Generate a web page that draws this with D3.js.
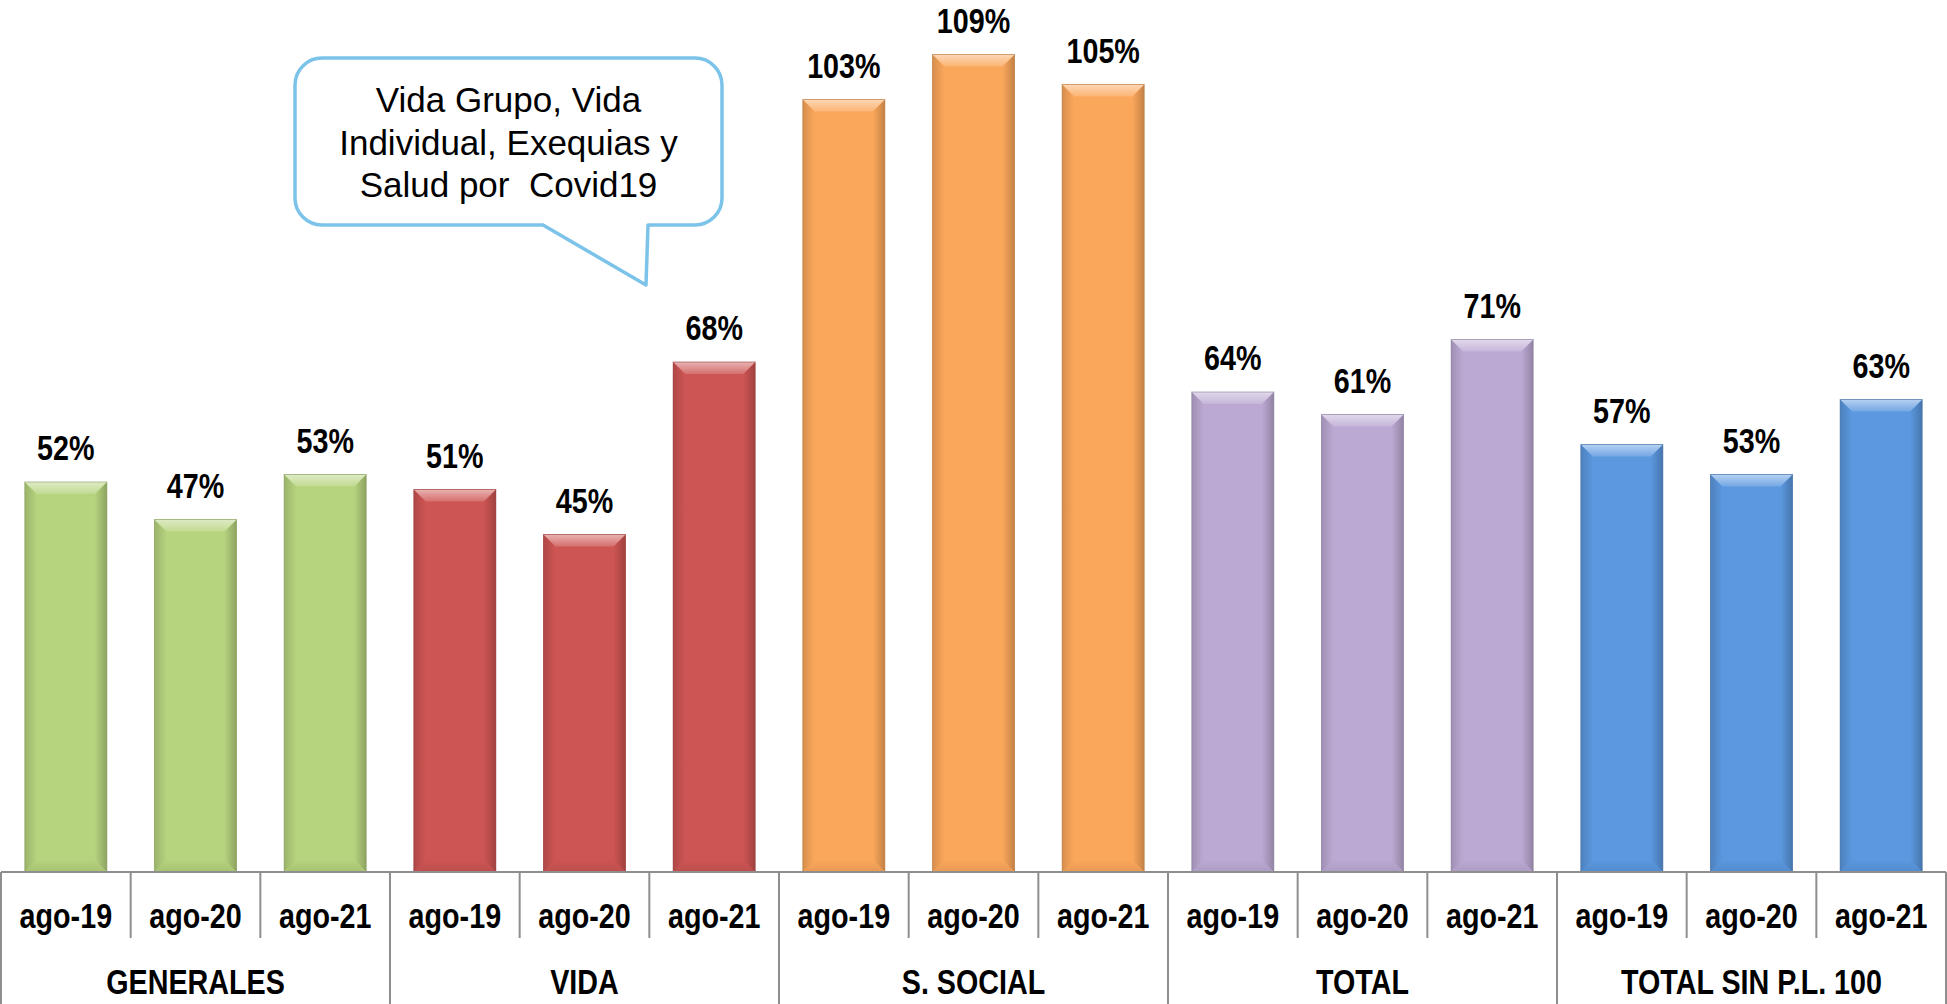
<!DOCTYPE html>
<html>
<head>
<meta charset="utf-8">
<script src="https://cdn.jsdelivr.net/npm/d3@7"></script>
<style>
  body { margin: 0; background: #fff; }
  .value, .period, .group {
    font-family: "Liberation Sans", Arial, sans-serif;
    font-weight: bold;
    font-size: 35px;
    fill: #000;
  }
  .note {
    font-family: "Liberation Sans", Arial, sans-serif;
    font-size: 35px;
    fill: #000;
    white-space: pre;
  }
</style>
</head>
<body>
<svg id="chart"></svg>
<script>
// data
const groups = ["GENERALES", "VIDA", "S. SOCIAL", "TOTAL", "TOTAL SIN P.L. 100"];
const periods = ["ago-19", "ago-20", "ago-21"];
const generales = [0.52, 0.47, 0.53];
const vida = [0.51, 0.45, 0.68];
const sSocial = [1.03, 1.09, 1.05];
const total = [0.64, 0.61, 0.71];
const totalSinPL = [0.57, 0.53, 0.63];
const groupColors = ["#b6d37e", "#cd5553", "#fba75b", "#bca9d3", "#5b98df"];
const noteLines = ["Vida Grupo, Vida", "Individual, Exequias y", "Salud por  Covid19"];

const series = [generales, vida, sSocial, total, totalSinPL];

// flat table for the bars
var rows = [];
groups.forEach((g, gi) => {
  periods.forEach((p, pi) => {
    rows.push({ key: g + "|" + p, group: g, gi: gi, period: p, value: series[gi][pi] });
  });
});

const width = 1947, height = 1004;
const left = 1, right = 1946, baseY = 872;
const lineColor = "#8e8e8e";
const narrow = 0.82;   // no narrow face installed, squeeze the bold one

var svg = d3.select("#chart").attr("width", width).attr("height", height);

var keys = rows.map(d => d.key);

var x = d3.scaleBand().domain(keys).range([left, right]).paddingInner(0.3676).paddingOuter(0.1838);
var cell = d3.scaleBand().domain(keys).range([left, right]).padding(0);
var gx = d3.scaleBand().domain(groups).range([left, right]).padding(0);
var y = d3.scaleLinear().domain([0, 1]).range([baseY, baseY - 750]);

/* ~~~~~~~~~ gradients for the bevelled bars ~~~~~~~~~ */
var defs = svg.append("defs");
groupColors.forEach((c, i) => {
  var base = d3.color(c);
  var light = d3.interpolateRgb(c, "#ffffff")(0.55);
  var dark = base.darker(0.7);

  var top = defs.append("linearGradient").attr("id", "top" + i).attr("x1", 0).attr("y1", 0).attr("x2", 0).attr("y2", 1);
  top.append("stop").attr("offset", 0).attr("stop-color", light);
  top.append("stop").attr("offset", 1).attr("stop-color", d3.interpolateRgb(c, "#ffffff")(0.15));

  var lside = defs.append("linearGradient").attr("id", "lside" + i).attr("x1", 0).attr("y1", 0).attr("x2", 1).attr("y2", 0);
  lside.append("stop").attr("offset", 0).attr("stop-color", base.darker(0.45));
  lside.append("stop").attr("offset", 1).attr("stop-color", c);

  var rside = defs.append("linearGradient").attr("id", "rside" + i).attr("x1", 0).attr("y1", 0).attr("x2", 1).attr("y2", 0);
  rside.append("stop").attr("offset", 0).attr("stop-color", c);
  rside.append("stop").attr("offset", 1).attr("stop-color", dark);

  var bot = defs.append("linearGradient").attr("id", "bot" + i).attr("x1", 0).attr("y1", 0).attr("x2", 0).attr("y2", 1);
  bot.append("stop").attr("offset", 0).attr("stop-color", c);
  bot.append("stop").attr("offset", 1).attr("stop-color", base.darker(0.25));
});

/* ~~~~~~~~~ bars ~~~~~~~~~ */
var bev = 12;
var bar = svg.append("g").attr("class", "bars").selectAll("g")
  .data(rows)
  .enter()
  .append("g");

bar.each(function(d) {
  var g = d3.select(this);
  var x0 = x(d.key), x1 = x0 + x.bandwidth();
  var y0 = y(d.value), y1 = y(0);
  var c = groupColors[d.gi];
  var pts = a => a.map(p => p.join(",")).join(" ");

  g.append("rect")
    .attr("x", x0).attr("y", y0)
    .attr("width", x.bandwidth()).attr("height", y1 - y0)
    .attr("fill", c);
  g.append("polygon")   // left side
    .attr("points", pts([[x0, y0], [x0 + bev, y0 + bev], [x0 + bev, y1 - bev], [x0, y1]]))
    .attr("fill", "url(#lside" + d.gi + ")");
  g.append("polygon")   // right side
    .attr("points", pts([[x1, y0], [x1 - bev, y0 + bev], [x1 - bev, y1 - bev], [x1, y1]]))
    .attr("fill", "url(#rside" + d.gi + ")");
  g.append("polygon")   // bottom
    .attr("points", pts([[x0, y1], [x0 + bev, y1 - bev], [x1 - bev, y1 - bev], [x1, y1]]))
    .attr("fill", "url(#bot" + d.gi + ")");
  g.append("polygon")   // top, lit
    .attr("points", pts([[x0, y0], [x1, y0], [x1 - bev, y0 + bev], [x0 + bev, y0 + bev]]))
    .attr("fill", "url(#top" + d.gi + ")");
  g.append("rect")      // thin outline
    .attr("x", x0).attr("y", y0)
    .attr("width", x.bandwidth()).attr("height", y1 - y0)
    .attr("fill", "none")
    .attr("stroke", d3.color(c).darker(0.9))
    .attr("stroke-opacity", 0.6)
    .attr("stroke-width", 1);
});

/* ~~~~~~~~~ value labels ~~~~~~~~~ */
var fmt = d3.format(".0%");
svg.append("g").selectAll("text")
  .data(rows)
  .enter()
  .append("text")
  .attr("class", "value")
  .attr("text-anchor", "middle")
  .attr("transform", d => "translate(" + (x(d.key) + x.bandwidth() / 2) + "," + (y(d.value) - 22) + ") scale(" + narrow + ",1)")
  .text(d => fmt(d.value));

/* ~~~~~~~~~ category axis ~~~~~~~~~ */
var axis = svg.append("g").attr("transform", "translate(0," + baseY + ")")
  .call(d3.axisBottom(cell).tickSize(0).tickPadding(31).tickFormat(k => k.split("|")[1]))
  .call(g => g.select(".domain").remove());
axis.attr("font-family", null).attr("font-size", null);
axis.selectAll("text")
  .attr("class", "period")
  .attr("fill", null)
  .attr("transform", "scale(" + narrow + ",1)");

var lines = svg.append("g").attr("stroke", lineColor).attr("stroke-width", 2);
lines.append("line").attr("x1", left).attr("x2", right).attr("y1", baseY).attr("y2", baseY);

// short dividers between periods
lines.selectAll(".inner")
  .data(rows.filter((d, i) => i % periods.length !== 0))
  .enter()
  .append("line")
  .attr("class", "inner")
  .attr("x1", d => cell(d.key)).attr("x2", d => cell(d.key))
  .attr("y1", baseY).attr("y2", baseY + 66);

// full dividers between groups
lines.selectAll(".outer")
  .data(groups.concat(["end"]))
  .enter()
  .append("line")
  .attr("class", "outer")
  .attr("x1", d => d === "end" ? right : gx(d)).attr("x2", d => d === "end" ? right : gx(d))
  .attr("y1", baseY).attr("y2", height);

svg.append("g").selectAll("text")
  .data(groups)
  .enter()
  .append("text")
  .attr("class", "group")
  .attr("text-anchor", "middle")
  .attr("transform", d => "translate(" + (gx(d) + gx.bandwidth() / 2) + ",994) scale(" + narrow + ",1)")
  .text(d => d);

/* ~~~~~~~~~ callout ~~~~~~~~~ */
var box = { l: 295, t: 58, r: 722, b: 225, rad: 27, tailL: 543, tailR: 648, tipX: 646, tipY: 285 };
var p = d3.path();
p.moveTo(box.l + box.rad, box.t);
p.lineTo(box.r - box.rad, box.t);
p.arcTo(box.r, box.t, box.r, box.t + box.rad, box.rad);
p.lineTo(box.r, box.b - box.rad);
p.arcTo(box.r, box.b, box.r - box.rad, box.b, box.rad);
p.lineTo(box.tailR, box.b);
p.lineTo(box.tipX, box.tipY);
p.lineTo(box.tailL, box.b);
p.lineTo(box.l + box.rad, box.b);
p.arcTo(box.l, box.b, box.l, box.b - box.rad, box.rad);
p.lineTo(box.l, box.t + box.rad);
p.arcTo(box.l, box.t, box.l + box.rad, box.t, box.rad);
p.closePath();

svg.append("path")
  .attr("d", p.toString())
  .attr("fill", "#fff")
  .attr("stroke", "#7cc3ea")
  .attr("stroke-width", 3.5)
  .attr("stroke-linejoin", "round");

svg.append("g").selectAll("text")
  .data(noteLines)
  .enter()
  .append("text")
  .attr("class", "note")
  .attr("text-anchor", "middle")
  .attr("x", (box.l + box.r) / 2)
  .attr("y", (d, i) => 112 + i * 42.5)
  .text(d => d);
</script>
</body>
</html>
